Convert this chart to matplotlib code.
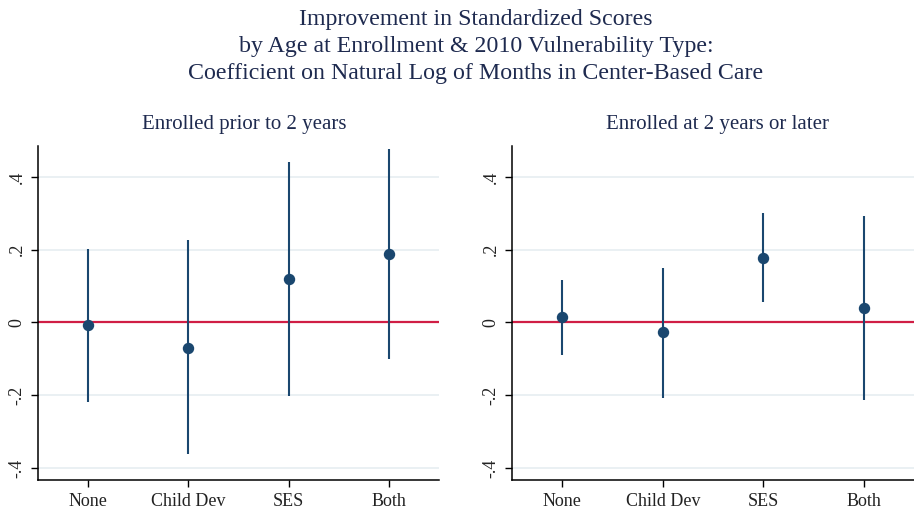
import matplotlib
matplotlib.use("Agg")
import matplotlib.pyplot as plt

categories = ["None", "Child Dev", "SES", "Both"]

early_coef = [-0.008, -0.069, 0.120, 0.188]
early_lo = [-0.219, -0.362, -0.202, -0.101]
early_hi = [0.201, 0.226, 0.441, 0.476]

late_coef = [0.016, -0.027, 0.178, 0.040]
late_lo = [-0.090, -0.207, 0.057, -0.213]
late_hi = [0.118, 0.151, 0.301, 0.293]

ytick_vals = [-0.4, -0.2, 0, 0.2, 0.4]
ytick_labels = ["-.4", "-.2", "0", ".2", ".4"]

panel_titles = ["Enrolled prior to 2 years", "Enrolled at 2 years or later"]
title_lines = ["Improvement in Standardized Scores",
               "by Age at Enrollment & 2010 Vulnerability Type:",
               "Coefficient on Natural Log of Months in Center-Based Care"]

plt.rcParams['font.family'] = ['Liberation Serif', 'DejaVu Serif']

W, H = 914, 513
fig = plt.figure(figsize=(W / 100, H / 100), dpi=100)

navy = "#1a476f"
red = "#d01e45"
grid_c = "#e6eef1"
text_c = "#1e2a4f"

for k, line in enumerate(title_lines):
    fig.text(476 / W, 1 - (20 + 27 * k) / H, line, ha="center", va="center",
             fontsize=17.2, color=text_c)

panels = [(38, 439, early_coef, early_lo, early_hi),
          (512, 914, late_coef, late_lo, late_hi)]
subtitle_x = [244, 718]

for i, (x0, x1, coef, lo, hi) in enumerate(panels):
    ax = fig.add_axes([x0 / W, (H - 480) / H, (x1 - x0) / W, (480 - 146) / H])
    xs = list(range(1, len(categories) + 1))
    for y in ytick_vals:
        ax.axhline(y, color=grid_c, lw=1.2, zorder=0)
    ax.axhline(0, color=red, lw=1.6, zorder=1)
    yerr = [[c - l for c, l in zip(coef, lo)], [h - c for c, h in zip(coef, hi)]]
    ax.errorbar(xs, coef, yerr=yerr, fmt="o", color=navy, ms=7.2, elinewidth=1.5,
                capsize=0, zorder=3)
    ax.set_xlim(0.5, 4.5)
    ax.set_ylim(-0.433, 0.485)
    ax.set_xticks(xs)
    ax.set_xticklabels(categories, fontsize=13, color="#222222")
    ax.set_yticks(ytick_vals)
    ax.set_yticklabels(ytick_labels, fontsize=13, color="#222222", rotation=90,
                       va="center")
    ax.tick_params(axis="both", direction="out", length=5, width=1, color="black", pad=4)
    for s in ["top", "right"]:
        ax.spines[s].set_visible(False)
    for s in ["left", "bottom"]:
        ax.spines[s].set_color("black")
        ax.spines[s].set_linewidth(1.1)
    ax.set_facecolor("white")
    fig.text(subtitle_x[i] / W, 1 - 124 / H, panel_titles[i], ha="center",
             va="center", fontsize=15, color=text_c)

fig.savefig("out.png", dpi=100, facecolor="white")
